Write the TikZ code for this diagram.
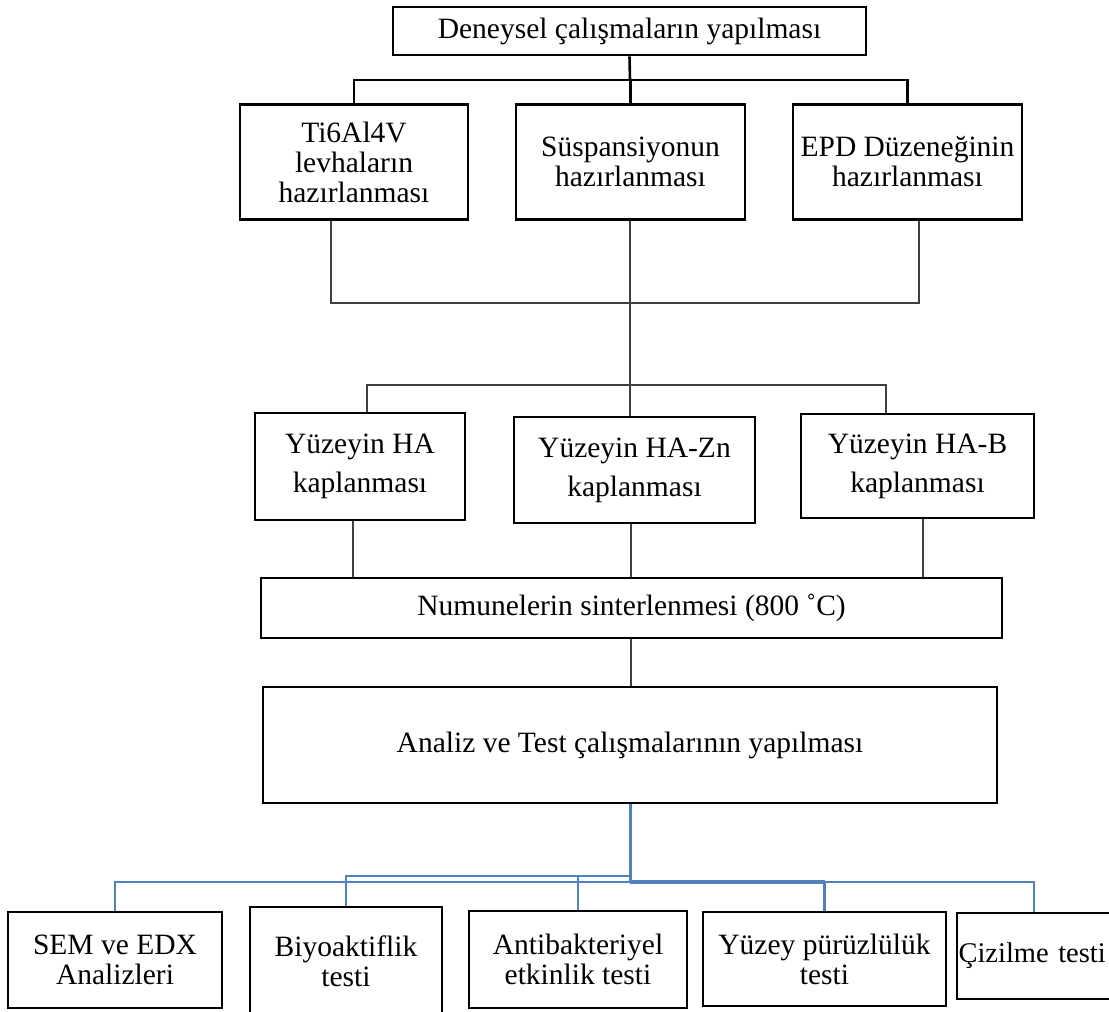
\documentclass[tikz,border=0pt]{standalone}
\usepackage{fontspec}
\setmainfont{Liberation Serif}
\usepackage{tikz}

\definecolor{maviR}{RGB}{79,129,189}
\tikzset{
kutu/.style={draw, line width=2.8pt, align=center, inner sep=0pt, font=\fontsize{29.5}{30}\selectfont},
kutuB/.style={kutu, font=\fontsize{29.5}{39}\selectfont},
kalin/.style={line width=2.6pt},
ince/.style={line width=1.2pt, color=black!75},
mavi/.style={line width=2.2pt, color=maviR}
}

\begin{document}
\begin{tikzpicture}[x=1pt, y=-1pt]
\useasboundingbox (0,0) rectangle (1109,1012);
%
\node[kutu, minimum width=473, minimum height=48] (ust) at (629.5,31) {Deneysel çalışmaların yapılması};
% hazirlik
\node[kutu, minimum width=228, minimum height=115] (lev) at (354,162) {Ti6Al4V\\levhaların\\hazırlanması};
\node[kutu, minimum width=229, minimum height=115] (sus) at (630.5,162) {Süspansiyonun\\hazırlanması};
\node[kutu, minimum width=229, minimum height=115] (epd) at (907.5,162) {EPD Düzeneğinin\\hazırlanması};
\coordinate (b1) at (630,80);
\draw[kalin] (ust.south) -- (b1);
\draw[kalin] (lev.north) |- (b1) -| (epd.north);
\draw[kalin] (sus.north) -- (sus.north |- b1);

% kaplama
\node[kutuB, minimum width=210, minimum height=107] (ha) at (360,466.5) {Yüzeyin HA\\kaplanması};
\node[kutuB, minimum width=241, minimum height=106] (hazn) at (634.5,470) {Yüzeyin HA-Zn\\kaplanması};
\node[kutuB, minimum width=233, minimum height=104] (hab) at (917.5,466) {Yüzeyin HA-B\\kaplanması};
\coordinate (s1) at (331,303); \coordinate (s2) at (919,303); \coordinate (s3) at (630,303);
\coordinate (k1) at (367,385); \coordinate (k2) at (886,385); \coordinate (k3) at (630,385);
\draw[ince] (lev.south -| s1) -- (s1) -- (s2) -- (epd.south -| s2);
\draw[ince] (sus.south -| s3) -- (k3);
\draw[ince] (ha.north -| k1) -- (k1) -- (k2) -- (hab.north -| k2);
\draw[ince] (k3) -- (hazn.north -| k3);

% sinterleme
\node[kutu, minimum width=741, minimum height=60] (sin) at (631.5,608) {Numunelerin sinterlenmesi (800 ˚C)};
\coordinate (t1) at (353,0); \coordinate (t2) at (631,0); \coordinate (t3) at (923,0);
\draw[ince] (ha.south -| t1) -- (sin.north -| t1);
\draw[ince] (hazn.south -| t2) -- (sin.north -| t2);
\draw[ince] (hab.south -| t3) -- (sin.north -| t3);

% analiz
\node[kutu, minimum width=734, minimum height=116] (ana) at (630,745) {Analiz ve Test çalışmalarının yapılması};
\draw[ince] (sin.south -| t2) -- (ana.north -| t2);

% testler
\node[kutu, minimum width=214, minimum height=96] (sem) at (115,960) {SEM ve EDX\\Analizleri};
\node[kutu, minimum width=192, minimum height=109] (biy) at (346,961.5) {Biyoaktiflik\\testi};
\node[kutu, minimum width=218, minimum height=97] (ant) at (578,959.5) {Antibakteriyel\\etkinlik testi};
\node[kutu, minimum width=243, minimum height=94] (yuz) at (824.5,959) {Yüzey pürüzlülük\\testi};
\node[kutu, minimum width=158, minimum height=86, text width=155, align=left, inner xsep=1.5pt,
  font=\fontsize{28.5}{30}\selectfont] (ciz) at (1036,956) {Çizilme testi};
\coordinate (m) at (630,882); \coordinate (m2) at (630,876);
\draw[mavi, line width=3pt] (ana.south -| m) -- (m);
\draw[mavi] (m) -| (sem.north);
\draw[mavi] (m2) -| (biy.north);
\draw[mavi] (ant.north) -- (ant.north |- m2);
\draw[mavi, line width=4pt] (m) -- (yuz.north |- m);
\draw[mavi] (m) -| (yuz.north);
\draw[mavi] (yuz.north |- m) -| ([xshift=-2pt]ciz.north);

\end{tikzpicture}
\end{document}
